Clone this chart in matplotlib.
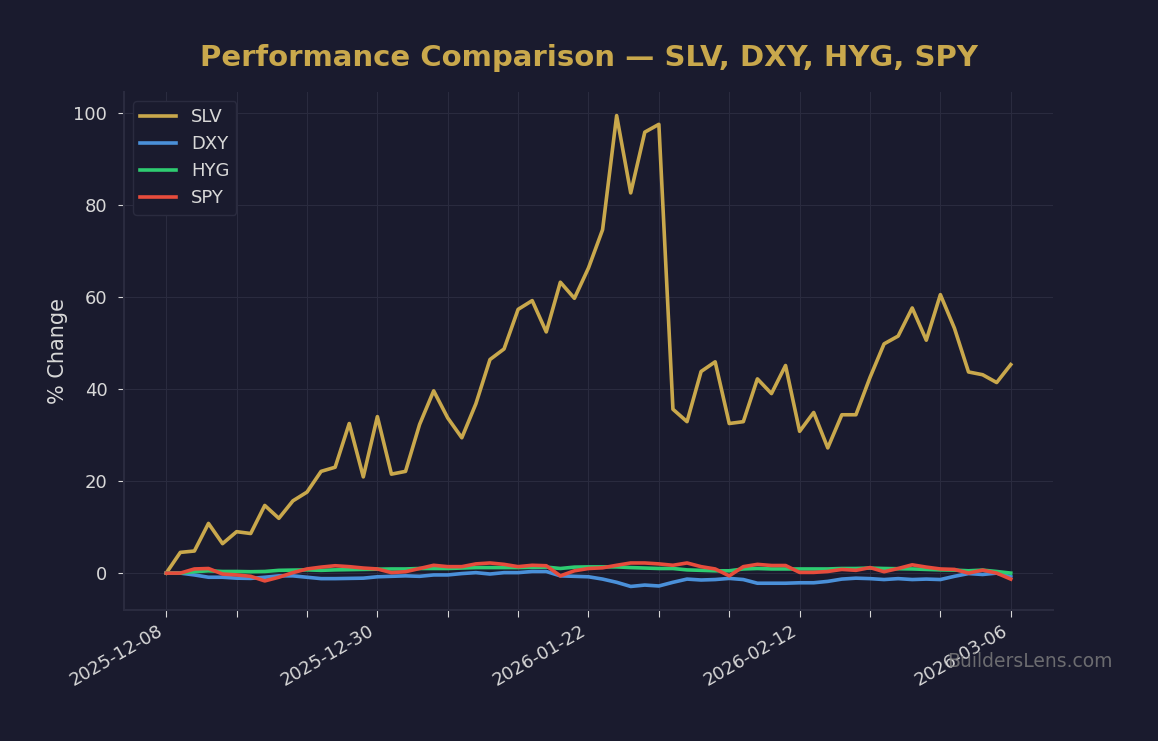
import matplotlib
matplotlib.use("Agg")
import matplotlib.pyplot as plt

# % change from 2025-12-08, one point per trading day (61 days)
slv = [0.0, 4.5, 4.8, 10.8, 6.4, 9.0, 8.6, 14.7, 11.9, 15.7,
       17.6, 22.1, 23.0, 32.5, 20.9, 34.0, 21.5, 22.1, 32.3, 39.6,
       33.7, 29.4, 36.8, 46.4, 48.7, 57.3, 59.2, 52.4, 63.2, 59.7,
       66.3, 74.6, 99.4, 82.6, 95.8, 97.5, 35.6, 32.9, 43.8, 45.9,
       32.5, 32.9, 42.2, 39.0, 45.1, 30.8, 34.9, 27.2, 34.4, 34.4,
       42.5, 49.8, 51.5, 57.6, 50.6, 60.5, 53.2, 43.7, 43.1, 41.4,
       45.3]
dxy = [0.0, 0.0, -0.4, -0.9, -0.9, -1.1, -1.15, -0.9, -0.6, -0.6,
       -0.9, -1.2, -1.2, -1.15, -1.1, -0.8, -0.7, -0.6, -0.7, -0.4,
       -0.4, -0.1, 0.1, -0.2, 0.1, 0.1, 0.35, 0.35, -0.6, -0.7,
       -0.8, -1.3, -2.0, -2.9, -2.6, -2.8, -2.0, -1.3, -1.5, -1.4,
       -1.15, -1.4, -2.2, -2.2, -2.2, -2.1, -2.1, -1.8, -1.3, -1.1,
       -1.2, -1.4, -1.2, -1.4, -1.3, -1.4, -0.7, -0.1, -0.3, 0.0,
       -0.8]
hyg = [0.0, 0.0, 0.3, 0.5, 0.35, 0.35, 0.3, 0.35, 0.6, 0.65,
       0.7, 0.6, 0.7, 0.75, 0.8, 0.85, 0.9, 0.9, 1.0, 1.0,
       1.0, 1.1, 1.2, 1.2, 1.2, 1.2, 1.25, 1.3, 1.0, 1.3,
       1.35, 1.35, 1.35, 1.2, 1.1, 1.0, 1.0, 0.7, 0.6, 0.5,
       0.5, 0.9, 1.0, 0.9, 0.9, 0.9, 0.9, 0.9, 1.0, 1.0,
       1.1, 1.0, 0.95, 0.9, 0.8, 0.7, 0.65, 0.5, 0.65, 0.35,
       0.0]
spy = [0.0, 0.0, 0.9, 1.0, -0.2, -0.4, -0.7, -1.7, -0.9, 0.1,
       0.9, 1.3, 1.6, 1.4, 1.1, 0.9, 0.1, 0.3, 1.0, 1.7,
       1.4, 1.4, 2.0, 2.2, 1.9, 1.4, 1.7, 1.6, -0.6, 0.5,
       1.0, 1.15, 1.7, 2.2, 2.2, 2.0, 1.7, 2.2, 1.4, 0.9,
       -0.6, 1.4, 1.9, 1.65, 1.65, 0.15, 0.15, 0.35, 0.8, 0.6,
       1.2, 0.3, 1.0, 1.8, 1.3, 0.9, 0.8, 0.0, 0.65, 0.0,
       -1.3]

series = [("SLV", slv, "#c9a84c"),
          ("DXY", dxy, "#4a90d9"),
          ("HYG", hyg, "#2ecc71"),
          ("SPY", spy, "#e74c3c")]

tick_pos = list(range(0, 61, 5))
tick_labels = ["2025-12-08", "", "", "2025-12-30", "", "", "2026-01-22",
               "", "", "2026-02-12", "", "", "2026-03-06"]

bg = "#1a1b2e"
text_col = "#d8d8d8"
grid_col = "#2a2b3f"

fig = plt.figure(figsize=(11.58, 7.41), dpi=100, facecolor=bg)
ax = fig.add_axes([0.1071, 0.1768, 0.8022, 0.699])
ax.set_facecolor(bg)

x = list(range(len(slv)))
for name, vals, col in series:
    ax.plot(x, vals, color=col, lw=2.6, label=name)

ax.set_xticks(tick_pos)
ax.set_xticklabels(tick_labels, rotation=30, ha="right", fontsize=13, color=text_col)
ax.tick_params(axis="x", colors=text_col, length=5)
ax.tick_params(axis="y", colors=text_col, labelsize=13, length=4, pad=8)
for lab in ax.get_yticklabels():
    lab.set_color(text_col)

ax.grid(True, color=grid_col, lw=0.8)
for s in ["top", "right"]:
    ax.spines[s].set_visible(False)
for s in ["left", "bottom"]:
    ax.spines[s].set_color(grid_col)
    ax.spines[s].set_linewidth(1.5)

ax.set_ylabel("% Change", fontsize=15, color=text_col, labelpad=4)

leg = ax.legend(loc="upper left", fontsize=13, facecolor=bg, edgecolor=grid_col,
                framealpha=1.0)
for t in leg.get_texts():
    t.set_color(text_col)

fig.text(0.5082, 0.922, "Performance Comparison — SLV, DXY, HYG, SPY",
         ha="center", va="center", fontsize=21, fontweight="bold", color="#c9a84c")
fig.text(0.961, 0.107, "BuildersLens.com", ha="right", va="center",
         fontsize=13.5, color="#808080", alpha=0.8)

fig.savefig("out.png", dpi=100, facecolor=bg)
